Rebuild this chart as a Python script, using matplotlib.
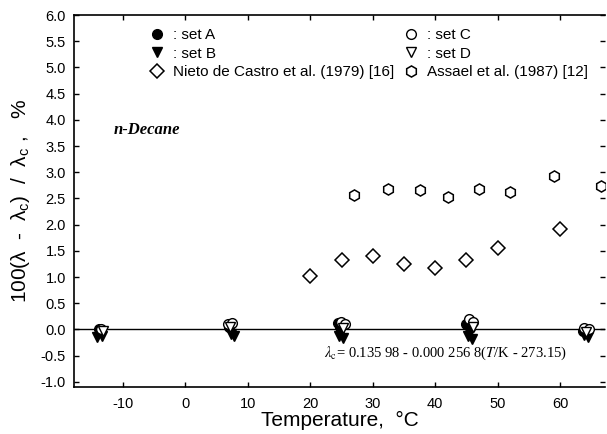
import numpy as np
import matplotlib
matplotlib.use("Agg")
import matplotlib.pyplot as plt

plt.rcParams['font.family'] = ['Liberation Sans', 'DejaVu Sans']
plt.rcParams['mathtext.fontset'] = 'custom'
plt.rcParams['mathtext.rm'] = 'Liberation Sans'
plt.rcParams['mathtext.it'] = 'Liberation Sans:italic'
plt.rcParams['axes.unicode_minus'] = False

# present measurements (deviation, %)
setA_T = [-13.9, 6.9, 24.4, 24.8, 45.0, 45.5, 63.6]
setA_v = [0.0, 0.05, 0.12, 0.05, 0.10, 0.02, -0.02]
setB_T = [-14.1, -13.4, 7.3, 7.8, 24.6, 25.2, 45.2, 45.9, 63.9, 64.4]
setB_v = [-0.15, -0.12, -0.08, -0.12, -0.12, -0.17, -0.12, -0.18, -0.10, -0.15]
setC_T = [-13.6, 6.8, 7.5, 24.9, 25.5, 45.4, 46.0, 63.8, 64.6]
setC_v = [0.0, 0.10, 0.12, 0.15, 0.10, 0.20, 0.15, 0.02, 0.0]
setD_T = [-13.2, 7.1, 25.3, 46.1, 64.2]
setD_v = [-0.02, 0.05, 0.02, 0.05, -0.05]

# literature data
nieto_T = [20, 25, 30, 35, 40, 45, 50, 60]
nieto_v = [1.02, 1.33, 1.41, 1.25, 1.17, 1.33, 1.56, 1.91]
assael_T = [27, 32.5, 37.5, 42, 47, 52, 59, 66.5]
assael_v = [2.57, 2.68, 2.66, 2.52, 2.68, 2.62, 2.93, 2.74]

fig = plt.figure(figsize=(6.07, 4.34), dpi=100)
ax = fig.add_axes([0.1224, 0.108, 0.8743, 0.8574])

ax.axhline(0, color='black', lw=1.0, zorder=1)

ms = 7
ax.plot(setA_T, setA_v, 'o', color='black', ms=ms, ls='none', label=': set A')
ax.plot(setB_T, setB_v, 'v', color='black', ms=ms, ls='none', label=': set B')
ax.plot(nieto_T, nieto_v, 'D', mfc='white', mec='black', mew=1.1, ms=7,
        ls='none', label='Nieto de Castro et al. (1979) [16]')
ax.plot(setC_T, setC_v, 'o', mfc='white', mec='black', mew=1.0, ms=ms,
        ls='none', label=': set C')
ax.plot(setD_T, setD_v, 'v', mfc='white', mec='black', mew=1.0, ms=ms,
        ls='none', label=': set D')
ax.plot(assael_T, assael_v, 'h', mfc='white', mec='black', mew=1.1, ms=8,
        ls='none', label='Assael et al. (1987) [12]')

ax.set_xlim(-17.8, 67.2)
ax.set_ylim(-1.1, 6.0)
ax.set_xticks(np.arange(-10, 61, 10))
ax.set_yticks(np.arange(-1.0, 6.01, 0.5))
ax.yaxis.set_major_formatter(matplotlib.ticker.FormatStrFormatter('%.1f'))

ax.tick_params(direction='in', top=True, right=True, length=3.5, width=1,
               labelsize=10.5, pad=6)
ax.tick_params(axis='x', pad=7)
ax.spines['right'].set_visible(False)
for s in ['left', 'bottom', 'top']:
    ax.spines[s].set_linewidth(1.2)

ax.set_xlabel('Temperature,  °C', fontsize=15, labelpad=0)
ax.set_ylabel('100(λ  -  λ$_\\mathrm{c}$)  /  λ$_\\mathrm{c}$ ,   %',
              fontsize=15, labelpad=6)

ax.legend(loc='upper left', bbox_to_anchor=(0.141, 0.964), ncol=2,
          frameon=False, fontsize=11, handlelength=1.0, handletextpad=0.55,
          columnspacing=0.6, labelspacing=0.28, borderpad=0, borderaxespad=0)

ax.text(-11.5, 3.8, 'n-Decane', family='Liberation Serif', style='italic',
        weight='bold', fontsize=12, va='center')
ax.text(22.2, -0.45,
        '$\\lambda_{\\rm c}$= 0.135 98 - 0.000 256 8($T$/K - 273.15)',
        family='Liberation Serif', math_fontfamily='stix', fontsize=10.5,
        va='center')

fig.savefig('out.png', dpi=100)
